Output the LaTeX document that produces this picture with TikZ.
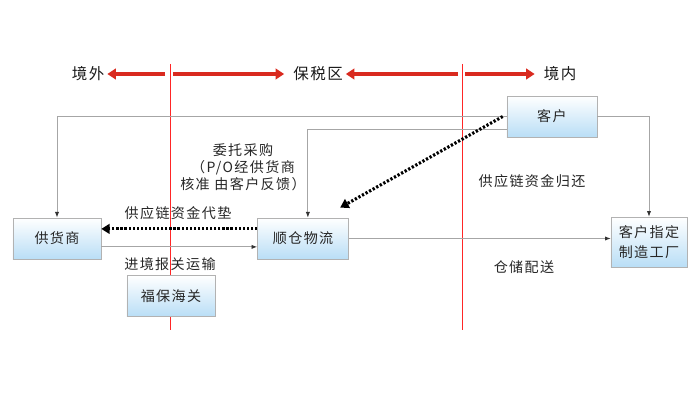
\documentclass[tikz,border=0pt]{standalone}
\usepackage{fontspec}
\setmainfont{Noto Sans CJK SC}[LetterSpace=10]
\usetikzlibrary{positioning,arrows.meta}
\definecolor{boxblue}{HTML}{B9DEF6}
\definecolor{flowred}{HTML}{D92A1F}
\definecolor{txtgray}{HTML}{262626}

\begin{document}
\begin{tikzpicture}[x=0.025cm,y=-0.025cm,node distance=6.15cm,on grid,
    box/.style={draw=gray!60,top color=white,bottom color=boxblue,minimum width=2.2cm,minimum height=1.03cm,
      font=\fontsize{10}{14.5}\selectfont,text=txtgray,align=center},
    lbl/.style={font=\fontsize{10}{12}\selectfont,text=txtgray,align=center},
    zone/.style={font=\fontsize{11}{13}\selectfont,text=black!90,inner sep=2pt},
    link/.style={draw=gray!70,line width=0.6pt,-{Latex[length=4pt,width=3pt,black!80]}},
    fund/.style={line width=2.2pt,dash pattern=on 1.6pt off 1.3pt,-{Triangle[length=6pt,width=7pt]}},
    border/.style={red!85!white,line width=0.5pt,dash pattern=on 0.3pt off 0.1pt},
    zonearrow/.style={flowred,line width=2.6pt,-{Triangle[length=6pt,width=7.5pt]}}]
  \useasboundingbox (0,0) rectangle (700,400);

  % zones
  \node[zone] (out) at (88,74) {境外};
  \node[zone] (bond) at (318,74) {保税区};
  \node[zone] (in) at (560,74) {境内};
  \coordinate (g1) at (170,74);
  \coordinate (g2) at (462,74);
  \draw[border] (170,64) -- (170,330);
  \draw[border] (462,64) -- (462,330);
  \draw[zonearrow] ([xshift=-0.12cm]g1) -- (out.east);
  \draw[zonearrow] ([xshift=0.08cm]g1) -- ([xshift=-0.15cm]bond.west);
  \draw[zonearrow] ([xshift=-0.1cm]g2) -- (bond.east);
  \draw[zonearrow] ([xshift=0.08cm]g2) -- ([xshift=-0.15cm]in.west);

  % boxes
  \node[box] (sup) at (57,238.5) {供货商};
  \node[box, minimum width=2.28cm] (sc) [right=of sup] {顺仓物流};
  \node[box] (fb) at (171,296) {福保海关};
  \node[box, minimum width=2.25cm] (cust) at (552,116.5) {客户};
  \node[box, minimum width=1.9cm, minimum height=1.25cm] (fac) at (649,242) {客户指定\\制造工厂};

  % labels
  \node[lbl] (po) at (243,167) {委托采购\\（P/O经供货商\\核准 由客户反馈）};
  \node[lbl] (back) at (532,181) {供应链资金归还};
  \node[lbl] (adv) at (178,213) {供应链资金代垫};
  \node[lbl] (imp) at (170,264) {进境报关运输};
  \node[lbl] (dist) at (524,267) {仓储配送};

  % flows
  \draw[link] (cust.west) -| (sup.north);
  \draw[link] ([yshift=-0.33cm]cust.west) -| ([xshift=0.12cm]sc.north);
  \draw[link] (cust.east) -| (fac.north);
  \draw[link] ([yshift=-0.21cm]sup.east) -- ([yshift=-0.21cm]sc.west);
  \draw[link] (sc.east) -- (sc.east -| fac.west);
  \draw[fund] ([yshift=0.24cm]sc.west) -- ([yshift=0.24cm]sup.east);
  \draw[fund] ([xshift=-0.1cm]cust.west) -- ([shift={(-0.22cm,0.25cm)}]sc.north east);
\end{tikzpicture}
\end{document}
